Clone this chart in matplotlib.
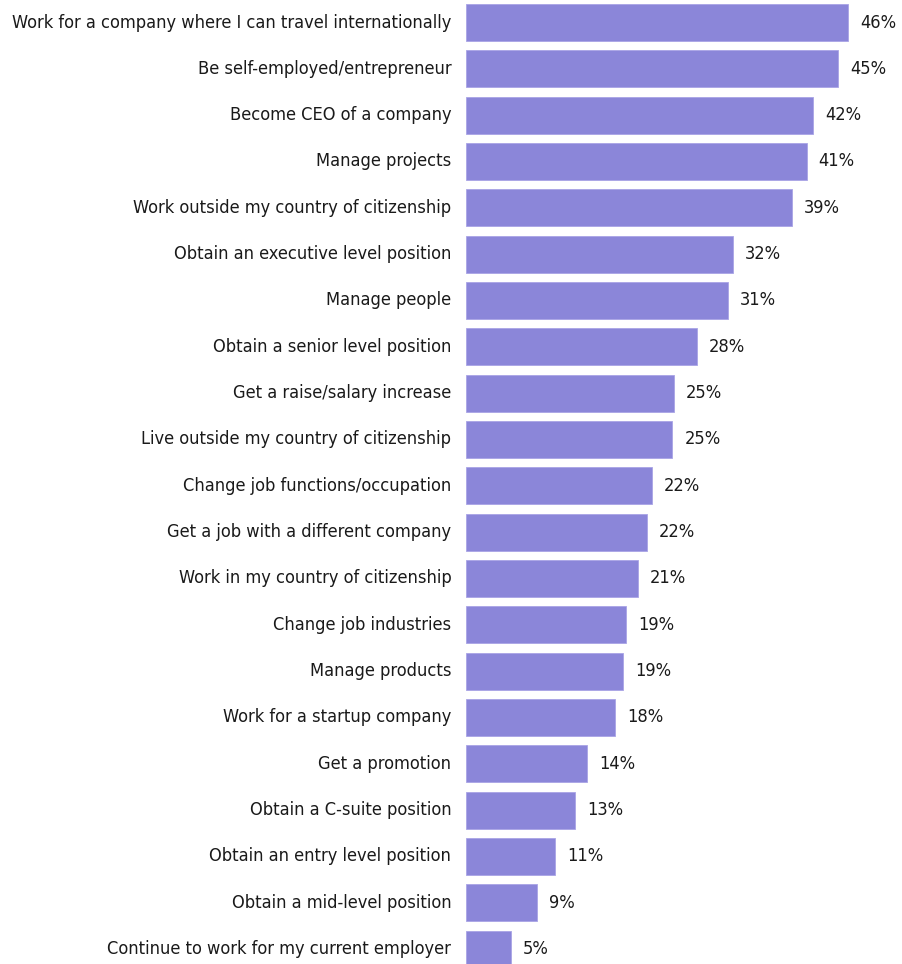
import matplotlib
matplotlib.use("Agg")
import matplotlib.pyplot as plt
from matplotlib import font_manager as fm

categories = [
    "Work for a company where I can travel internationally",
    "Be self-employed/entrepreneur",
    "Become CEO of a company",
    "Manage projects",
    "Work outside my country of citizenship",
    "Obtain an executive level position",
    "Manage people",
    "Obtain a senior level position",
    "Get a raise/salary increase",
    "Live outside my country of citizenship",
    "Change job functions/occupation",
    "Get a job with a different company",
    "Work in my country of citizenship",
    "Change job industries",
    "Manage products",
    "Work for a startup company",
    "Get a promotion",
    "Obtain a C-suite position",
    "Obtain an entry level position",
    "Obtain a mid-level position",
    "Continue to work for my current employer",
]
values = [46.0, 44.8, 41.85, 41.05, 39.25, 32.2, 31.6, 27.85, 25.1, 24.9,
          22.45, 21.8, 20.7, 19.35, 19.0, 18.0, 14.6, 13.2, 10.75, 8.6, 5.45]
value_labels = ["46%", "45%", "42%", "41%", "39%", "32%", "31%", "28%", "25%", "25%",
                "22%", "22%", "21%", "19%", "19%", "18%", "14%", "13%", "11%", "9%", "5%"]

# choose an upright condensed font if available
cond = [f for f in fm.fontManager.ttflist
        if f.name == "DejaVu Sans" and f.stretch == "condensed"
        and f.style == "normal" and f.weight in (400, "normal", "regular")]
if cond:
    fprop = fm.FontProperties(fname=cond[0].fname, size=13.1)
else:
    fprop = fm.FontProperties(family="DejaVu Sans", size=11.7)

W, H = 902, 964
fig = plt.figure(figsize=(W / 100, H / 100), dpi=100)
left = 465.5 / W
ax = fig.add_axes([left, 0, 1 - left, 1])

bar_color = "#8B86D9"
y = list(range(len(categories)))
ax.barh(y, values, height=0.8, color=bar_color, edgecolor="#A9A4E6", linewidth=0.6)

pitch = 46.33
top_center = 22.5
ax.set_ylim((H - top_center) / pitch, -top_center / pitch)
ax.set_xlim(0, (W - 465.5) / 8.31)

ax.set_yticks(y)
ax.set_yticklabels(categories, fontproperties=fprop, color="#1a1a1a", va="center")
ax.tick_params(axis="y", length=0, pad=10.2)
ax.set_xticks([])
for s in ax.spines.values():
    s.set_visible(False)

for yi, v, lab in zip(y, values, value_labels):
    ax.annotate(lab, xy=(v, yi), xytext=(12, 0), textcoords="offset pixels",
                ha="left", va="center", fontproperties=fprop, color="#1a1a1a")

fig.savefig("out.png", dpi=100, facecolor="white")
